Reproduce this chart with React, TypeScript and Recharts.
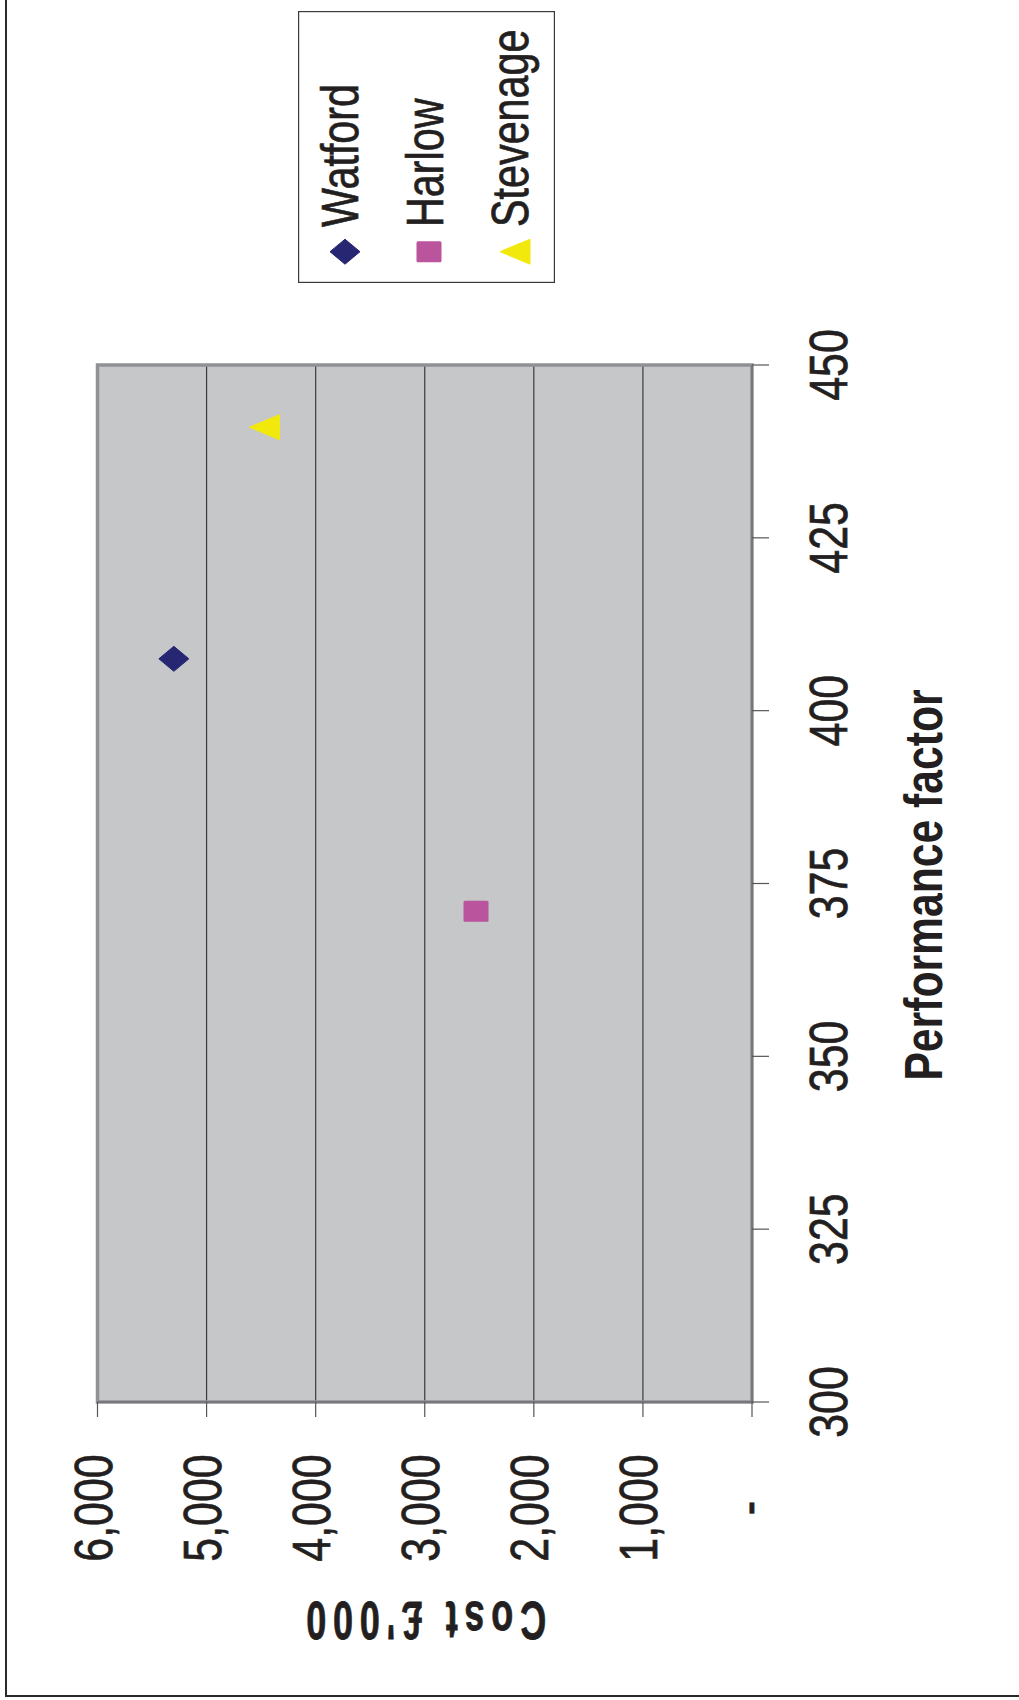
import React from 'react';
import {
  ScatterChart,
  Scatter,
  XAxis,
  YAxis,
  CartesianGrid,
  ReferenceArea,
  Legend,
} from 'recharts';

// Towns compared: performance factor against cost (£'000)
const towns = ['Watford', 'Harlow', 'Stevenage'];
const performance = [407.5, 371, 441];
const costs = [5300, 2530, 4470];
const markerColors = ['#262673', '#b9549d', '#f2e90c'];
const markerKinds = ['diamond', 'square', 'triangle'];

const perfTicks = [300, 325, 350, 375, 400, 425, 450];
const costTicks = [0, 1000, 2000, 3000, 4000, 5000, 6000];

const FONT = '"Liberation Sans", Arial, Helvetica, sans-serif';
const INK = '#231f20';
const NARROW = 0.81;

const series = towns.map((name, i) => ({
  name,
  color: markerColors[i],
  kind: markerKinds[i],
  data: [{ perf: performance[i], cost: costs[i] }],
}));

function Marker({ kind, cx, cy, color }: { kind: string; cx: number; cy: number; color: string }) {
  if (kind === 'diamond') {
    return (
      <polygon
        points={`${cx},${cy - 15} ${cx + 12.5},${cy} ${cx},${cy + 15} ${cx - 12.5},${cy}`}
        fill={color}
        stroke={color}
        strokeWidth={1}
        strokeLinejoin="round"
      />
    );
  }
  if (kind === 'square') {
    return <rect x={cx - 10.5} y={cy - 12.5} width={21} height={25} rx={1.5} fill={color} />;
  }
  return (
    <polygon
      points={`${cx},${cy - 15} ${cx + 12.5},${cy + 15} ${cx - 12.5},${cy + 15}`}
      fill={color}
      stroke={color}
      strokeWidth={1}
      strokeLinejoin="round"
    />
  );
}

// regular labels get a hairline outline so the narrowed glyphs keep their weight
const regularText = { fontFamily: FONT, fill: INK, stroke: INK, strokeWidth: 0.7 };

function PerfTick(props: any) {
  const { x, y, payload } = props;
  return (
    <text
      transform={`translate(${x},${y + 78}) scale(${NARROW},1)`}
      textAnchor="middle"
      fontSize={53}
      {...regularText}
    >
      {payload.value}
    </text>
  );
}

function CostTick(props: any) {
  const { x, y, payload } = props;
  const v = Number(payload.value);
  const label = v === 0 ? '-' : v.toLocaleString('en-US');
  return (
    <text
      transform={`translate(${x - 91},${y + 14}) scale(${NARROW},1)`}
      textAnchor="middle"
      fontSize={53}
      {...regularText}
    >
      {label}
    </text>
  );
}

function PerfTitle(props: any) {
  const vb = props.viewBox || {};
  const cx = vb.x + vb.width / 2 - 1.5;
  const by = vb.y + 190;
  return (
    <text
      transform={`translate(${cx},${by}) scale(0.79,1)`}
      textAnchor="middle"
      fontFamily={FONT}
      fontWeight="bold"
      fontSize={54}
      fill={INK}
    >
      Performance factor
    </text>
  );
}

function CostTitle(props: any) {
  const vb = props.viewBox || {};
  const bx = vb.x + 0.5;
  const cy = vb.y + vb.height / 2 - 2;
  return (
    <text
      transform={`translate(${bx},${cy}) rotate(-90) scale(0.68,1)`}
      textAnchor="middle"
      fontFamily={FONT}
      fontWeight="bold"
      fontSize={53}
      letterSpacing={10}
      fill={INK}
      stroke={INK}
      strokeWidth={0.8}
    >
      {"Cost £'000"}
    </text>
  );
}

function LegendBox(props: any) {
  const payload: any[] = props.payload || [];
  return (
    <svg width={272} height={257} style={{ display: 'block', overflow: 'visible' }}>
      <rect x={0.6} y={0.6} width={270.8} height={255.8} fill="#ffffff" stroke="#3a3a3a" strokeWidth={1.2} />
      {payload.map((entry: any, idx: number) => {
        const i = towns.indexOf(entry.value);
        const k = i >= 0 ? i : idx;
        const baseline = 60 + 85 * k;
        const markerY = [47, 131, 217][k];
        return (
          <g key={entry.value}>
            <Marker kind={markerKinds[k]} cx={31.3} cy={markerY} color={markerColors[k]} />
            <text
              transform={`translate(56,${baseline}) scale(${NARROW},1)`}
              fontSize={51}
              {...regularText}
            >
              {entry.value}
            </text>
          </g>
        );
      })}
    </svg>
  );
}

export default function App() {
  return (
    <div
      style={{
        position: 'absolute',
        left: 0,
        top: 0,
        width: 1019,
        height: 1700,
        overflow: 'hidden',
        background: '#ffffff',
      }}
    >
      {/* frame of the chart area */}
      <div
        style={{
          position: 'absolute',
          left: 5,
          top: -10,
          width: 1100,
          height: 1705,
          borderLeft: '2px solid #2a2a2a',
          borderBottom: '2px solid #2a2a2a',
        }}
      />
      <div
        style={{
          position: 'absolute',
          left: 0,
          top: 0,
          width: 1700,
          height: 1019,
          transformOrigin: '0 0',
          transform: 'translateY(1700px) rotate(-90deg)',
        }}
      >
        <ScatterChart
          width={1700}
          height={1019}
          margin={{ top: 97.5, right: 365, bottom: 167, left: 98 }}
        >
          <CartesianGrid vertical={false} stroke="#3b3b3b" strokeWidth={1.2} fill="#c6c7c9" />
          <ReferenceArea
            x1={300}
            x2={450}
            y1={0}
            y2={6000}
            fill="none"
            fillOpacity={0}
            stroke="#909194"
            strokeWidth={3.5}
          />
          <XAxis
            type="number"
            dataKey="perf"
            domain={[300, 450]}
            ticks={perfTicks}
            interval={0}
            height={100}
            tickSize={17}
            tickMargin={0}
            axisLine={{ stroke: '#707174', strokeWidth: 1.5 }}
            tickLine={{ stroke: '#555555', strokeWidth: 1.2 }}
            tick={<PerfTick />}
            label={<PerfTitle />}
            allowDataOverflow
          />
          <YAxis
            type="number"
            dataKey="cost"
            domain={[0, 6000]}
            ticks={costTicks}
            interval={0}
            width={200}
            tickSize={15}
            tickMargin={0}
            axisLine={{ stroke: '#707174', strokeWidth: 1.5 }}
            tickLine={{ stroke: '#555555', strokeWidth: 1.2 }}
            tick={<CostTick />}
            label={<CostTitle />}
            allowDataOverflow
          />
          {series.map((s) => (
            <Scatter
              key={s.name}
              name={s.name}
              data={s.data}
              fill={s.color}
              isAnimationActive={false}
              shape={(p: any) => <Marker kind={s.kind} cx={p.cx} cy={p.cy} color={s.color} />}
            />
          ))}
          <Legend
            layout="vertical"
            align="center"
            verticalAlign="middle"
            wrapperStyle={{ left: 1417, top: 298, width: 272, height: 257 }}
            content={<LegendBox />}
          />
        </ScatterChart>
      </div>
    </div>
  );
}
